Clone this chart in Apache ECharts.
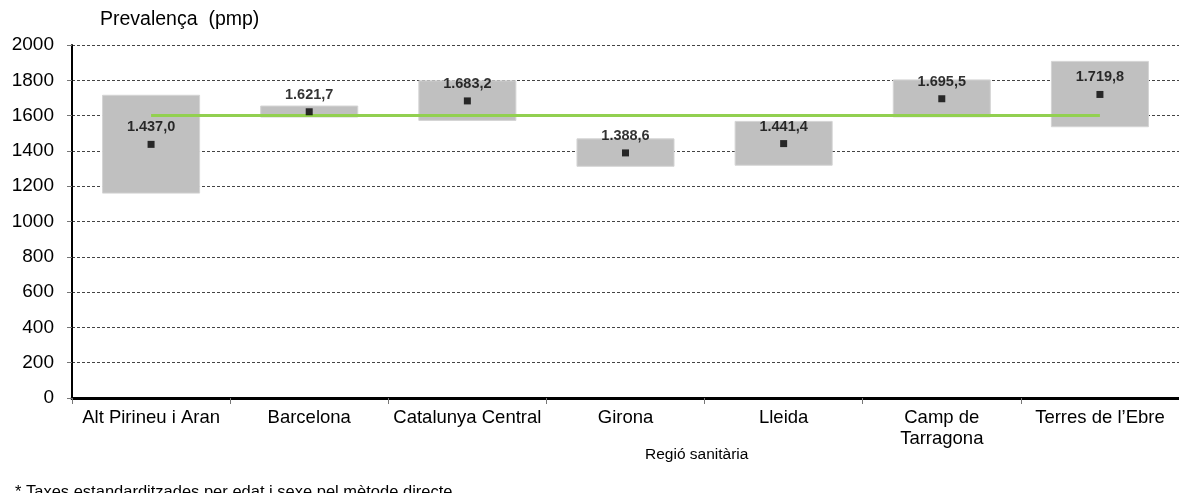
<!DOCTYPE html>
<html>
<head>
<meta charset="utf-8">
<script src="https://cdn.jsdelivr.net/npm/echarts@6/dist/echarts.min.js"></script>
<style>
html,body{margin:0;padding:0;background:#fff;}
#chart{width:1179px;height:493px;}
</style>
</head>
<body>
<div id="chart"></div>
<script>
const categories = ['Alt Pirineu i Aran','Barcelona','Catalunya Central','Girona','Lleida','Camp de\nTarragona','Terres de l\u2019Ebre'];
const prevalence = [1437.0, 1621.7, 1683.2, 1388.6, 1441.4, 1695.5, 1719.8];
const ciLow = [1158, 1589, 1570, 1310, 1316, 1590, 1534];
const ciHigh = [1718, 1657, 1800, 1471, 1570, 1805, 1910];
const catalunyaMean = [1600, 1600, 1600, 1600, 1600, 1600, 1600];
const yTicks = {min: 0, max: 2000, interval: 200};

const fmt = v => {
  const s = v.toFixed(1).split('.');
  return s[0].replace(/\B(?=(\d{3})+(?!\d))/g, '.') + ',' + s[1];
};

const chart = echarts.init(document.getElementById('chart'));
const FONT = '"Liberation Sans", Arial, sans-serif';
chart.setOption({
  animation: false,
  backgroundColor: '#fff',
  grid: {left: 72, top: 45, height: 353, width: 1115, containLabel: false},
  xAxis: {
    type: 'category',
    data: categories,
    boundaryGap: true,
    axisLine: {lineStyle: {color: '#000', width: 3}},
    axisTick: {show: true, length: 6, lineStyle: {color: '#777', width: 1}},
    axisLabel: {color: '#000', fontSize: 18.5, fontFamily: FONT, margin: 9, lineHeight: 21, interval: 0},
    splitLine: {show: false}
  },
  yAxis: {
    type: 'value',
    min: yTicks.min, max: yTicks.max, interval: yTicks.interval,
    axisLine: {show: true, lineStyle: {color: '#000', width: 2}},
    axisTick: {show: true, length: 5, lineStyle: {color: '#777', width: 1}},
    axisLabel: {color: '#000', fontSize: 19, fontFamily: FONT, margin: 18, formatter: v => String(v)},
    splitLine: {show: true, lineStyle: {color: '#444', width: 1, type: [3, 2]}}
  },
  graphic: [
    {type: 'text', left: 100, top: 10, style: {text: 'Prevalença  (pmp)', font: '19.5px ' + FONT, fill: '#000'}},
    {type: 'text', left: 645, top: 447, style: {text: 'Regió sanitària', font: '15.5px ' + FONT, fill: '#000'}},
    {type: 'text', left: 15, top: 484, style: {text: '* Taxes estandarditzades per edat i sexe pel mètode directe', font: '16.5px ' + FONT, fill: '#000'}}
  ],
  series: [
    {
      type: 'bar', stack: 'ci', data: ciLow, barWidth: '62%',
      itemStyle: {color: 'transparent'}, silent: true, z: 2
    },
    {
      type: 'bar', stack: 'ci', data: ciHigh.map((h, i) => h - ciLow[i]), barWidth: '62%',
      itemStyle: {color: '#c0c0c0', borderColor: '#d4d4d4', borderWidth: 1}, z: 2
    },
    {
      type: 'line', data: catalunyaMean, symbol: 'none',
      lineStyle: {color: '#92d050', width: 3}, z: 3
    },
    {
      type: 'scatter', data: prevalence, symbol: 'rect', symbolSize: 7,
      itemStyle: {color: '#000'}, z: 4,
      label: {
        show: true, position: 'top', distance: 6,
        formatter: p => fmt(p.value),
        color: '#000', fontWeight: 'bold', fontSize: 14.5, fontFamily: FONT
      }
    }
  ]
});
</script>
</body>
</html>
